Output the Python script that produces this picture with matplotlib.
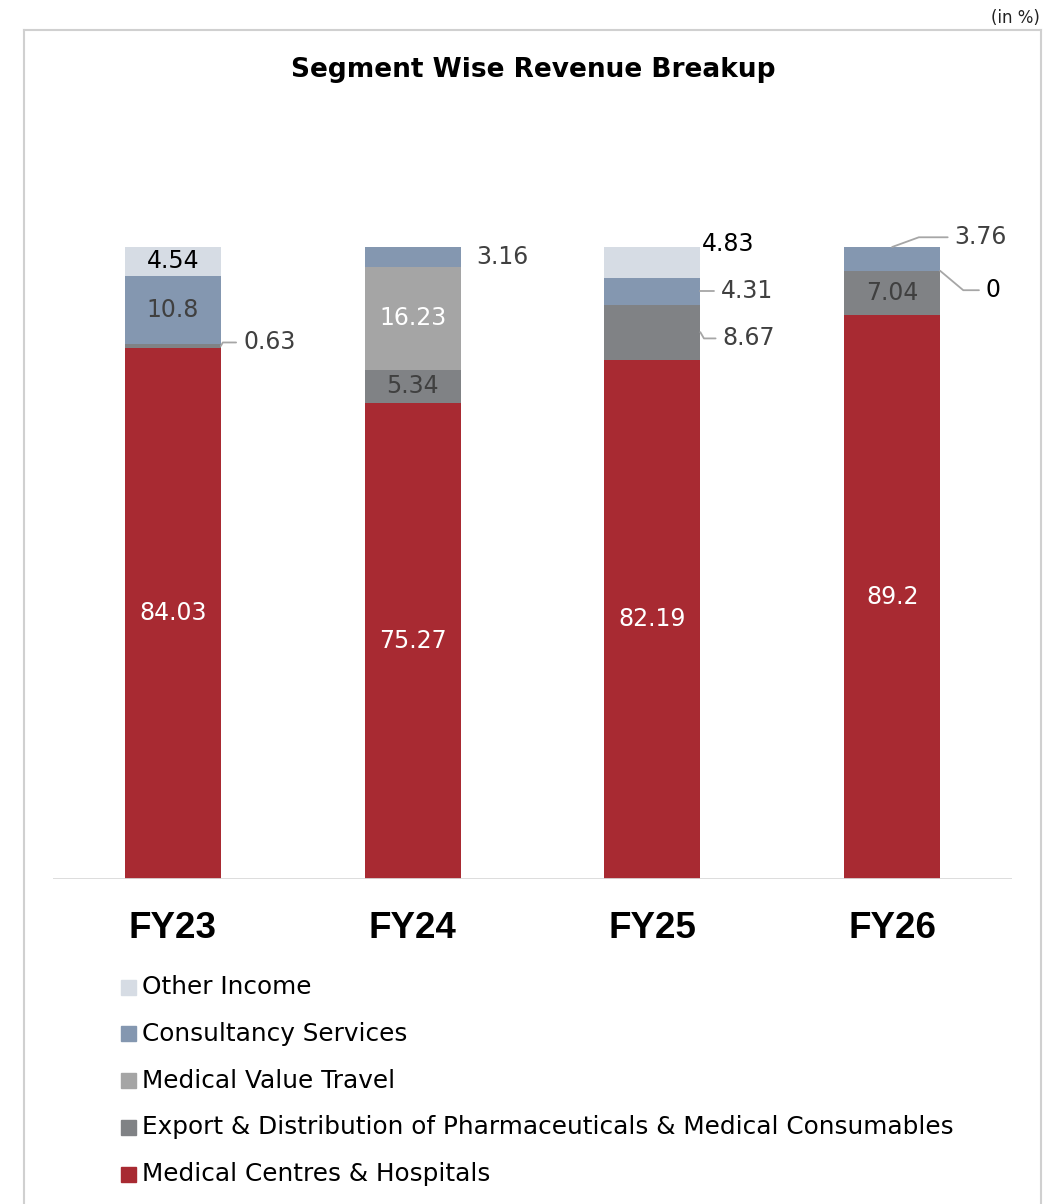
import matplotlib.pyplot as plt
from matplotlib.patches import Rectangle
from matplotlib.lines import Line2D

plt.rcParams['font.family'] = ['DejaVu Sans']

years = ["FY23", "FY24", "FY25", "FY26"]
segments = ["Medical Centres & Hospitals",
            "Export & Distribution of Pharmaceuticals & Medical Consumables",
            "Medical Value Travel",
            "Consultancy Services",
            "Other Income"]
hospitals = [84.03, 75.27, 82.19, 89.2]
export = [0.63, 5.34, 8.67, 7.04]
mvt = [0.0, 16.23, 0.0, 0.0]
consultancy = [10.8, 3.16, 4.31, 3.76]
other = [4.54, 0.0, 4.83, 0.0]
series = [hospitals, export, mvt, consultancy, other]
colors = ["#A82A32", "#808285", "#A5A5A5", "#8497B0", "#D6DCE4"]
inside_color = ["white", "#404040", "white", "#404040", "black"]
# (series, bar) pairs whose label sits outside the bar
outside_labels = {(1, 0), (3, 1), (4, 2), (3, 2), (1, 2), (3, 3), (2, 3)}

W, H = 1046, 1204
fig = plt.figure(figsize=(W / 100, H / 100), dpi=100)

def fx(px):
    return px / W

def fy(py):
    return 1 - py / H

# frame
frame = "#D0D0D0"
fig.add_artist(Line2D([fx(23.5), fx(23.5)], [fy(30), 0], color=frame, lw=1.5))
fig.add_artist(Line2D([fx(23.5), fx(1040.5)], [fy(30), fy(30)], color=frame, lw=1.5))
fig.add_artist(Line2D([fx(1040.5), fx(1040.5)], [fy(30), 0], color=frame, lw=1.5))

fig.text(fx(1040), fy(18), "(in %)", ha="right", va="center", fontsize=12, color="#222222")
fig.text(fx(533), fy(70), "Segment Wise Revenue Breakup", ha="center", va="center",
         fontsize=19, fontweight="bold", color="black")

ax = fig.add_axes([fx(53), fy(879), fx(1012) - fx(53), fy(247) - fy(879)])
ax.set_xlim(-0.5, 3.5)
ax.set_ylim(0, 100)
x = list(range(len(years)))
bw = 0.4

bottoms = [0.0] * len(years)
for s, vals in enumerate(series):
    ax.bar(x, vals, bw, bottom=bottoms, color=colors[s], edgecolor="none")
    for i, v in enumerate(vals):
        if v > 0 and (s, i) not in outside_labels:
            ax.text(i, bottoms[i] + v / 2, f"{v:g}", ha="center", va="center",
                    fontsize=17, color=inside_color[s])
    bottoms = [b + v for b, v in zip(bottoms, vals)]

ax.axhline(0, color="#D9D9D9", lw=2)
for sp in ax.spines.values():
    sp.set_visible(False)
ax.set_yticks([])
ax.set_xticks(x)
ax.set_xticklabels(years, fontsize=26.5, fontweight="bold", family=["Liberation Sans", "DejaVu Sans"])
ax.tick_params(axis="x", length=0, pad=23)

# outside labels with leader lines
lc = "#A6A6A6"
def outside(i, yv, text, dx, dy, color="#404040", line=True, conn="angle,angleA=0,angleB=60,rad=0"):
    kw = {}
    if line:
        kw["arrowprops"] = dict(arrowstyle="-", color=lc, lw=1.3, shrinkA=3, shrinkB=0,
                                connectionstyle=conn)
    ax.annotate(text, xy=(i + bw / 2, yv), xytext=(dx, dy), textcoords="offset points",
                ha="left", va="center", fontsize=17, color=color, annotation_clip=False, **kw)

outside(0, hospitals[0] + export[0] / 2, "0.63", 16, 2.5)
outside(1, 100 - consultancy[1] / 2, "3.16", 11, 0, line=False)
outside(2, 100 - other[2] / 2, "4.83", 1, 13, color="black", line=False)
outside(2, hospitals[2] + export[2] + consultancy[2] / 2, "4.31", 14.5, 0)
outside(2, hospitals[2] + export[2] / 2, "8.67", 16, -4.5,
        conn="angle,angleA=0,angleB=-60,rad=0")
ax.annotate("3.76", xy=(3, 100), xytext=(45, 7), textcoords="offset points",
            ha="left", va="center", fontsize=17, color="#404040", annotation_clip=False,
            arrowprops=dict(arrowstyle="-", color=lc, lw=1.3, shrinkA=3, shrinkB=0,
                            connectionstyle="angle,angleA=0,angleB=20,rad=0"))
outside(3, hospitals[3] + export[3] + mvt[3], "0", 33, -14, color="black",
        conn="angle,angleA=0,angleB=-40,rad=0")

# legend
leg_order = [4, 3, 2, 1, 0]
for k, s in enumerate(leg_order):
    yc = 987 + k * 46.8
    fig.add_artist(Rectangle((fx(121), fy(yc + 7.5)), fx(15), 15 / H, color=colors[s],
                             transform=fig.transFigure))
    fig.text(fx(142), fy(yc), segments[s], ha="left", va="center", fontsize=17.8, color="black")

fig.savefig("out.png", dpi=100)
